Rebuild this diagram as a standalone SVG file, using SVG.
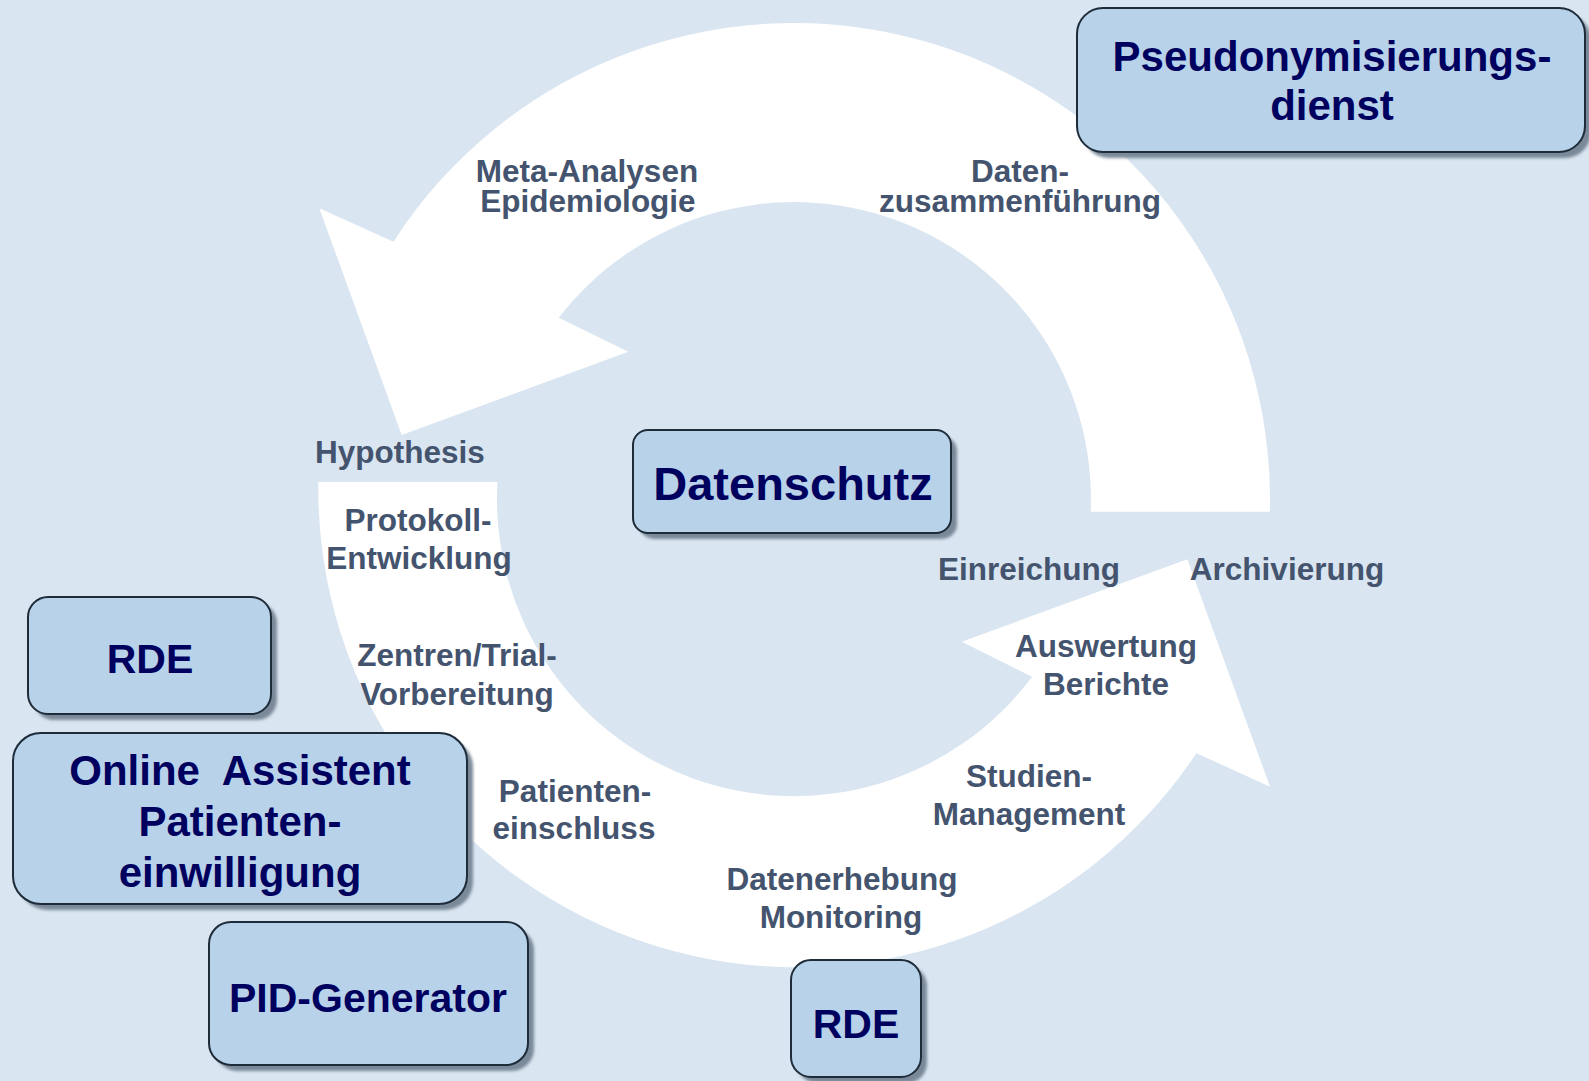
<svg xmlns="http://www.w3.org/2000/svg" width="1589" height="1081" viewBox="0 0 1589 1081">
<defs>
<filter id="sh" x="-10%" y="-10%" width="130%" height="130%"><feGaussianBlur stdDeviation="1.5"/></filter>
</defs>
<style>
.bg{fill:#d9e5f0}
.arrow{fill:#ffffff}
.shadow{fill:#7a8999;filter:url(#sh)}
.box{fill:#b8d2ea;stroke:#1e2b38;stroke-width:2}
.bt{font-family:"Liberation Sans",Arial,sans-serif;font-weight:bold;fill:#00005e;text-anchor:middle}
.lb{font-family:"Liberation Sans",Arial,sans-serif;font-weight:bold;fill:#44546e;font-size:31.5px;text-anchor:middle}
</style>
<rect class="bg" x="0" y="0" width="1589" height="1081"/>

<g id="connectors">
<path class="arrow" d="M 1269.8 511.7 A 476 476 0 0 0 393.5 241.7 L 319.3 208.3 L 401.7 435 L 628.3 351.7 L 558.8 317.7 A 297 297 0 0 1 1090.7 511.7 Z"/>
<path class="arrow" d="M 318.3 482 A 479 479 0 0 0 1196.4 753.2 L 1270 786.7 L 1187.3 559.3 L 961.7 641.7 L 1032 676.8 A 297 297 0 0 1 497.5 482 Z"/>
</g>

<g id="labels">
<text class="lb"><tspan x="587" y="182">Meta-Analysen</tspan><tspan x="588" y="212">Epidemiologie</tspan></text>
<text class="lb"><tspan x="1020" y="182">Daten-</tspan><tspan x="1020" y="212">zusammenführung</tspan></text>
<text class="lb" x="400" y="463">Hypothesis</text>
<text class="lb"><tspan x="418" y="531">Protokoll-</tspan><tspan x="419" y="569">Entwicklung</tspan></text>
<text class="lb"><tspan x="457" y="666">Zentren/Trial-</tspan><tspan x="457" y="705">Vorbereitung</tspan></text>
<text class="lb"><tspan x="575" y="802">Patienten-</tspan><tspan x="574" y="839">einschluss</tspan></text>
<text class="lb"><tspan x="842" y="890">Datenerhebung</tspan><tspan x="841" y="928">Monitoring</tspan></text>
<text class="lb"><tspan x="1029" y="787">Studien-</tspan><tspan x="1029" y="825">Management</tspan></text>
<text class="lb"><tspan x="1106" y="657">Auswertung</tspan><tspan x="1106" y="695">Berichte</tspan></text>
<text class="lb" x="1029" y="580">Einreichung</text>
<text class="lb" x="1287" y="580">Archivierung</text>
</g>

<g id="node-pseudonymisierungsdienst">
<rect class="shadow" x="1083" y="14" width="508" height="144" rx="26"/>
<rect class="box" x="1077" y="8" width="508" height="144" rx="26"/>
<text class="bt" font-size="42"><tspan x="1332" y="71">Pseudonymisierungs-</tspan><tspan x="1332" y="120">dienst</tspan></text>
</g>

<g id="node-datenschutz">
<rect class="shadow" x="639" y="436" width="318" height="103" rx="15"/>
<rect class="box" x="633" y="430" width="318" height="103" rx="15"/>
<text class="bt" font-size="47" x="793" y="500">Datenschutz</text>
</g>

<g id="node-rde-left">
<rect class="shadow" x="34" y="603" width="243" height="117" rx="20"/>
<rect class="box" x="28" y="597" width="243" height="117" rx="20"/>
<text class="bt" font-size="41" x="150" y="673">RDE</text>
</g>

<g id="node-online-assistent">
<rect class="shadow" x="19" y="739" width="454" height="171" rx="28"/>
<rect class="box" x="13" y="733" width="454" height="171" rx="28"/>
<text class="bt" font-size="42" xml:space="preserve"><tspan x="240" y="785">Online  Assistent</tspan><tspan x="240" y="836">Patienten-</tspan><tspan x="240" y="887">einwilligung</tspan></text>
</g>

<g id="node-pid-generator">
<rect class="shadow" x="215" y="928" width="319" height="143" rx="22"/>
<rect class="box" x="209" y="922" width="319" height="143" rx="22"/>
<text class="bt" font-size="41" x="368" y="1012">PID-Generator</text>
</g>

<g id="node-rde-bottom">
<rect class="shadow" x="797" y="966" width="130" height="117" rx="20"/>
<rect class="box" x="791" y="960" width="130" height="117" rx="20"/>
<text class="bt" font-size="41" x="856" y="1038">RDE</text>
</g>
</svg>
